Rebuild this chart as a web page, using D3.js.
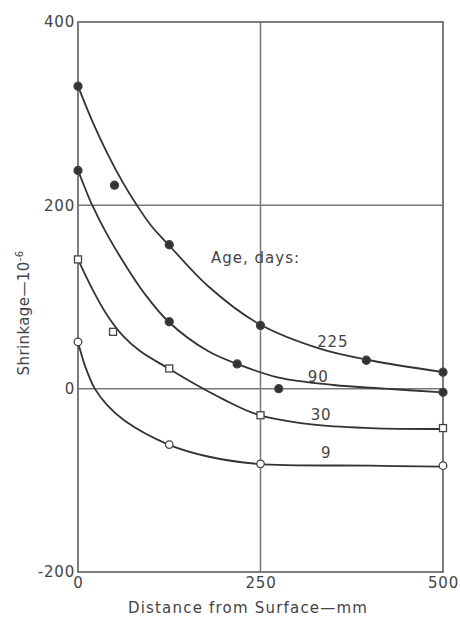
<!DOCTYPE html>
<html>
<head>
<meta charset="utf-8">
<script src="https://cdn.jsdelivr.net/npm/d3@7/dist/d3.min.js"></script>
<style>
  body { margin: 0; background: #fff; }
  text { font-family: "DejaVu Sans", sans-serif; fill: #444; }
</style>
</head>
<body>
<svg width="460" height="617"></svg>
<script>
// measured points: [distance mm, shrinkage 1e-6]
var ages = ["225", "90", "30", "9"];
var pts225 = [[0, 330], [50, 222], [125, 157], [250, 69], [395, 31], [500, 18]];
var pts90 = [[0, 238], [125, 73], [218, 27], [275, 0], [500, -4]];
var pts30 = [[0, 141], [48, 62], [125, 22], [250, -29], [500, -43]];
var pts9 = [[0, 51], [125, -61], [250, -82], [500, -84]];

// faired curves
var curve225 = [[0, 330], [20, 291], [40, 257], [60, 227], [80, 201], [100, 178], [124, 157], [178, 112], [245, 72], [330, 44], [400, 31], [500, 18]];
var curve90 = [[0, 238], [5, 228], [19, 201], [40, 168], [64, 136], [90, 105], [124, 73], [178, 41], [218, 27], [275, 12], [350, 4], [420, 0], [500, -4]];
var curve30 = [[0, 141], [20, 108], [40, 80], [60, 59], [85, 41], [124, 22], [160, 5], [200, -12], [245, -28], [320, -39], [400, -43], [500, -44]];
var curve9 = [[0, 51], [10, 24], [23, 0], [40, -18], [64, -35], [124, -61], [178, -74], [245, -82], [400, -84], [500, -85]];

var markers = ["dot", "dot", "square", "ring"];
var labelAt = [[349, 51], [329, 13], [333, -29], [340, -70]];

var xTicks = [0, 250, 500];
var yTicks = [400, 200, 0, -200];
var gridX = [250];
var gridY = [200, 0];

var series = [
    { age: ages[0], pts: pts225, curve: curve225, marker: markers[0], label: labelAt[0] },
    { age: ages[1], pts: pts90, curve: curve90, marker: markers[1], label: labelAt[1] },
    { age: ages[2], pts: pts30, curve: curve30, marker: markers[2], label: labelAt[2] },
    { age: ages[3], pts: pts9, curve: curve9, marker: markers[3], label: labelAt[3] }
];

var svg = d3.select("svg");
var x = d3.scaleLinear().domain([0, 500]).range([78, 443]);
var y = d3.scaleLinear().domain([-200, 400]).range([572, 22]);

// grid
svg.append("g").selectAll("line").data(gridX).enter().append("line")
    .attr("x1", function(d) { return x(d); }).attr("x2", function(d) { return x(d); })
    .attr("y1", y(400)).attr("y2", y(-200))
    .attr("stroke", "#777").attr("stroke-width", 1.5);
svg.append("g").selectAll("line").data(gridY).enter().append("line")
    .attr("y1", function(d) { return y(d); }).attr("y2", function(d) { return y(d); })
    .attr("x1", x(0)).attr("x2", x(500))
    .attr("stroke", "#777").attr("stroke-width", 1.5);

svg.append("rect")
    .attr("x", x(0)).attr("y", y(400))
    .attr("width", x(500) - x(0)).attr("height", y(-200) - y(400))
    .attr("fill", "none").attr("stroke", "#666").attr("stroke-width", 1.7);

// axes (labels only, no tick marks)
var xAxis = svg.append("g")
    .attr("transform", "translate(0," + y(-200) + ")")
    .call(d3.axisBottom(x).tickValues(xTicks).tickSize(0).tickPadding(5));
var yAxis = svg.append("g")
    .attr("transform", "translate(" + x(0) + ",0)")
    .call(d3.axisLeft(y).tickValues(yTicks).tickSize(0).tickPadding(3)
        .tickFormat(function(d) { return String(d); }));
[xAxis, yAxis].forEach(function(a) {
    a.select(".domain").remove();
    a.selectAll("text").style("font-size", "15px").attr("fill", "#444")
        .style("letter-spacing", "0.8px")
        .style("font-family", "DejaVu Sans, sans-serif");
});

var line = d3.line()
    .x(function(d) { return x(d[0]); })
    .y(function(d) { return y(d[1]); })
    .curve(d3.curveCatmullRom.alpha(0.5));

var g = svg.append("g");
series.forEach(function(s) {
    g.append("path")
        .attr("d", line(s.curve))
        .attr("fill", "none")
        .attr("stroke", "#333")
        .attr("stroke-width", 1.8);

    var m = g.append("g").selectAll(".m").data(s.pts).enter();
    if (s.marker === "square") {
        m.append("rect")
            .attr("x", function(d) { return x(d[0]) - 3.5; })
            .attr("y", function(d) { return y(d[1]) - 3.5; })
            .attr("width", 7).attr("height", 7)
            .attr("fill", "#fff").attr("stroke", "#444").attr("stroke-width", 1.3);
    } else {
        m.append("circle")
            .attr("cx", function(d) { return x(d[0]); })
            .attr("cy", function(d) { return y(d[1]); })
            .attr("r", s.marker === "dot" ? 4 : 3.8)
            .attr("fill", s.marker === "dot" ? "#333" : "#fff")
            .attr("stroke", "#444").attr("stroke-width", 1.3);
    }

    g.append("text")
        .attr("x", x(s.label[0]))
        .attr("y", y(s.label[1]) + 5)
        .attr("text-anchor", "middle")
        .style("font-size", "15px")
        .style("letter-spacing", "0.8px")
        .text(s.age);
});

svg.append("text")
    .attr("x", 211).attr("y", 263)
    .style("font-size", "15px")
    .style("letter-spacing", "1px")
    .text("Age, days:");

svg.append("text")
    .attr("x", 248).attr("y", 613)
    .attr("text-anchor", "middle")
    .style("font-size", "15px")
    .style("letter-spacing", "1.2px")
    .text("Distance from Surface\u2014mm");

svg.append("text")
    .attr("transform", "translate(29," + 313 + ") rotate(-90)")
    .attr("text-anchor", "middle")
    .style("font-size", "15px")
    .style("letter-spacing", "0.4px")
    .html("Shrinkage\u201410<tspan dy='-6' style='font-size:10px'>-6</tspan>");
</script>
</body>
</html>
